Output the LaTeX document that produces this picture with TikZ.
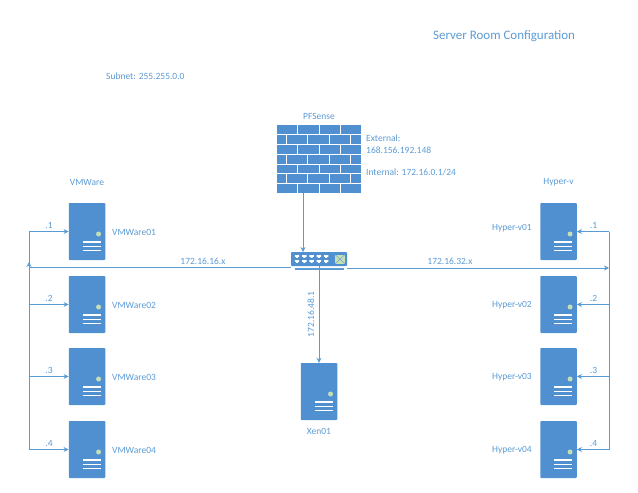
\documentclass[tikz,border=0pt]{standalone}
\usepackage{fontspec}
\setmainfont{Carlito}
\usetikzlibrary{arrows.meta}
\definecolor{srvblue}{HTML}{5090D0}
\definecolor{txtblue}{HTML}{5B9BD5}
\definecolor{ledgreen}{HTML}{C5E0B4}
\tikzset{
  lbl/.style={text=txtblue,font=\fontsize{9.5}{11.5}\selectfont,inner sep=0pt},
  lnk/.style={draw=txtblue,line width=0.9pt,-{Stealth[length=5pt,width=5pt]}},
  wire/.style={draw=txtblue,line width=0.9pt},
  serverbox/.style={fill=srvblue,rounded corners=0.8pt,minimum width=36.5pt,minimum height=57pt,inner sep=0pt,
    path picture={
      \fill[ledgreen] ([xshift=-6.7pt,yshift=-31pt]path picture bounding box.north east) circle (2.5pt);
      \foreach \dy in {9.3,13.7,18}
        \draw[white,line width=1.1pt] ([xshift=-4.5pt,yshift=\dy pt]path picture bounding box.south) -- ++(18pt,0);
    }},
  wallbox/.style={fill=srvblue,minimum width=84pt,minimum height=68pt,inner sep=0pt},
  hubbox/.style={fill=srvblue,rounded corners=0.8pt,minimum width=56pt,minimum height=14pt,inner sep=0pt}
}
\begin{document}
\begin{tikzpicture}[>=stealth,x=1pt,y=-1pt]
\useasboundingbox (0,0) rectangle (638,493);
% firewall
\node[wallbox] (pf) at (319,159) {};
\foreach \r in {1,...,6}
  \draw[white,line width=0.6pt] (277,{125+\r*9.7})--(361,{125+\r*9.7});
\foreach \r in {0,2,4,6}
  \foreach \c in {297.7,319,340.3}
    \draw[white,line width=0.6pt] (\c,{125+\r*9.7})--(\c,{125+(\r+1)*9.7});
\foreach \r in {1,3,5}
  \foreach \c in {286.7,307.7,329,350.7}
    \draw[white,line width=0.6pt] (\c,{125+\r*9.7})--(\c,{125+(\r+1)*9.7});
% switch
\node[hubbox] (hub) at (319,259) {};
\foreach \c in {297,304.3,311.6,318.9,326.2}
  \foreach \w in {256.5,261.5}
    \fill[white] (\c-2.2,\w-1.3) rectangle (\c+2.2,\w+0.3) (\c-1,\w+0.3) rectangle (\c+1,\w+1.4);
\fill[ledgreen] (335,254.5) rectangle (345,264);
\draw[txtblue,line width=0.4pt] (335,254.5)--(345,264) (345,254.5)--(335,264);
\draw[txtblue,line width=1.2pt] (295,269)--(344,269);
% servers
\foreach \n/\y/\ty in {1/231.5/228.5,2/304.5/305,3/376.5/377.5,4/449.5/450}{
  \node[serverbox] (vm\n) at (87,\y) {};
  \node[serverbox] (hv\n) at (558.5,\y) {};
  \coordinate (lt\n) at (29,\y);
  \coordinate (rt\n) at (609,\y);
  \node[lbl,anchor=west] (vmname\n) at (112,\y+1) {VMWare0\n};
  \node[lbl,anchor=east] (hvname\n) at (532,\ty) {Hyper-v0\n};
  \node[lbl] (vmip\n) at (49,\y-6) {.\n};
  \node[lbl] (hvip\n) at (593.5,\y-6) {.\n};
  \draw[lnk] (lt\n)--(vm\n);
  \draw[lnk] (rt\n)--(hv\n);
}
\node[serverbox] (xen) at (319,391.5) {};
% wiring
\coordinate (ltbus) at (29,267);
\coordinate (rtbus) at (609,268);
\coordinate (pfout) at (303,193);
\coordinate (hubin) at (303,252);
\draw[wire] (lt1)--(lt4);
\draw[wire] (rt1)--(rt4);
\draw[lnk] (pfout)--(hubin);
\draw[wire] (hub.west |- ltbus)--(ltbus);
\draw[lnk] (hub.east |- rtbus)--(rtbus);
\draw[wire,-{Stealth[length=5pt,width=5pt]}] (ltbus)--++(0,-5);
\draw[lnk] (hub.south)--(xen);
% labels
\node[lbl,font=\fontsize{12.95}{15}\selectfont,anchor=west] (title) at (433,36.5) {Server Room Configuration};
\node[lbl,anchor=west] (subnet) at (106,76.5) {Subnet: 255.255.0.0};
\node[lbl] (pfname) at (319,116.5) {PFSense};
\node[lbl,anchor=west,align=left] (ext) at (366,144) {External:\\168.156.192.148};
\node[lbl,anchor=west] (int) at (366,172.5) {Internal: 172.16.0.1/24};
\node[lbl] (vmhead) at (87,182.5) {VMWare};
\node[lbl] (hvhead) at (558.5,182.5) {Hyper-v};
\node[lbl] (vmnet) at (203,261.5) {172.16.16.x};
\node[lbl] (hvnet) at (450,261.5) {172.16.32.x};
\node[lbl,rotate=90] (xennet) at (311,314.5) {172.16.48.1};
\node[lbl] (xenname) at (319,431.5) {Xen01};
\end{tikzpicture}
\end{document}
